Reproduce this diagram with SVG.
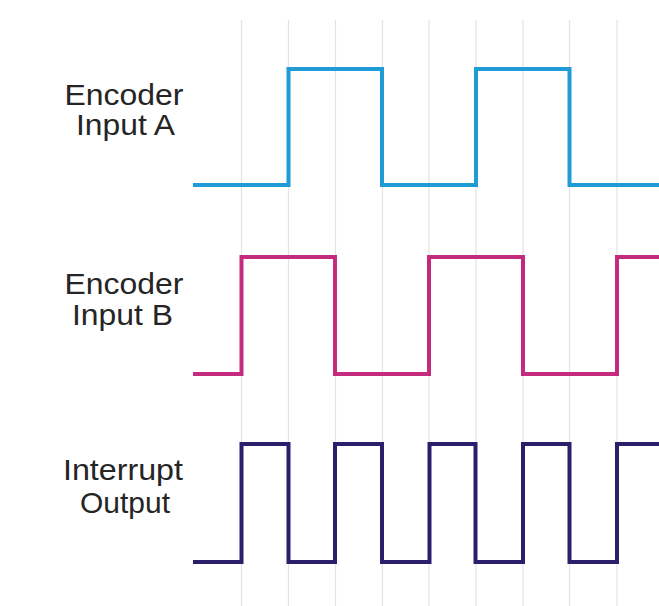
<svg xmlns="http://www.w3.org/2000/svg" width="659" height="606" viewBox="0 0 659 606">
<style>
.grid line{stroke:#e3e3e3;stroke-width:1.2}
.sig{fill:none;stroke-width:4;stroke-linejoin:miter;stroke-linecap:butt}
.lbl{font-family:"Liberation Sans",Arial,sans-serif;font-size:30px;fill:#252525;text-anchor:middle}
</style>
<rect width="659" height="606" fill="#ffffff"/>
<g id="grid" class="grid">
<line x1="241.5" y1="20" x2="241.5" y2="606"/>
<line x1="288.5" y1="20" x2="288.5" y2="606"/>
<line x1="335.5" y1="20" x2="335.5" y2="606"/>
<line x1="382.5" y1="20" x2="382.5" y2="606"/>
<line x1="429" y1="20" x2="429" y2="606"/>
<line x1="476" y1="20" x2="476" y2="606"/>
<line x1="523" y1="20" x2="523" y2="606"/>
<line x1="569.5" y1="20" x2="569.5" y2="606"/>
<line x1="617" y1="20" x2="617" y2="606"/>
</g>
<g id="label-a">
<text class="lbl" x="124" y="105" textLength="119" lengthAdjust="spacingAndGlyphs">Encoder</text>
<text class="lbl" x="125.5" y="135" textLength="99" lengthAdjust="spacingAndGlyphs">Input A</text>
</g>
<g id="label-b">
<text class="lbl" x="124" y="294" textLength="119" lengthAdjust="spacingAndGlyphs">Encoder</text>
<text class="lbl" x="122.5" y="325" textLength="101" lengthAdjust="spacingAndGlyphs">Input B</text>
</g>
<g id="label-int">
<text class="lbl" x="123" y="480" textLength="120" lengthAdjust="spacingAndGlyphs">Interrupt</text>
<text class="lbl" x="125" y="513" textLength="90" lengthAdjust="spacingAndGlyphs">Output</text>
</g>
<g id="signals">
<path id="sig-a" class="sig" stroke="#1f9bd5" d="M193 185 H288.5 V69 H382 V185 H476 V69 H569.5 V185 H659"/>
<path id="sig-b" class="sig" stroke="#c42a7e" d="M193 374 H241.5 V257 H335 V374 H429 V257 H523 V374 H617 V257 H659"/>
<path id="sig-int" class="sig" stroke="#2b1f6c" d="M193 562 H241.5 V444 H288.5 V562 H335 V444 H382 V562 H429.5 V444 H475.5 V562 H523 V444 H569.5 V562 H617 V444 H659"/>
</g>
</svg>
